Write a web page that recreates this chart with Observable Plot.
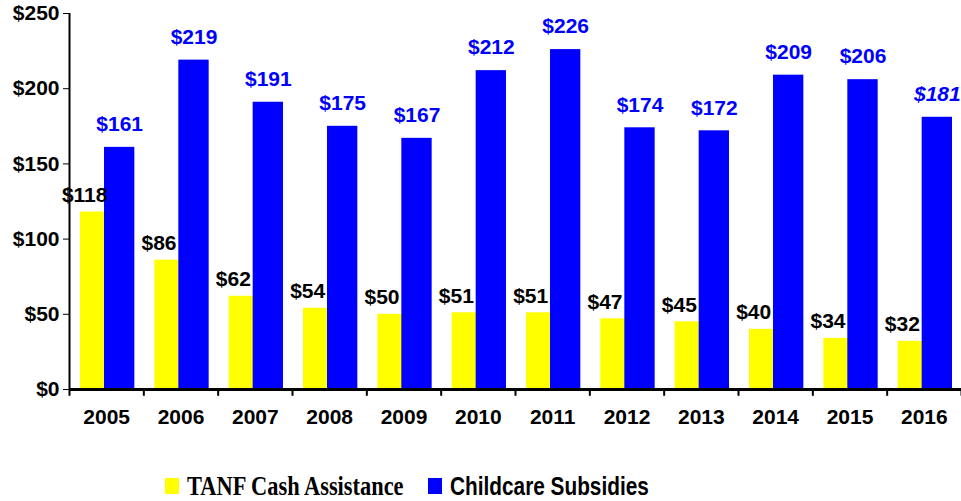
<!DOCTYPE html>
<html>
<head>
<meta charset="utf-8">
<script src="https://cdn.jsdelivr.net/npm/d3@7"></script>
<script src="https://cdn.jsdelivr.net/npm/@observablehq/plot@0.6"></script>
<style>
  body { margin: 0; background: white; }
  #wrap { position: relative; width: 961px; height: 501px; overflow: hidden; background: white; }
  #legend { position: absolute; left: 0; top: 460px; width: 961px; height: 41px; }
  .sw { position: absolute; width: 14px; height: 16px; top: 18px; }
  .lt { position: absolute; top: 11px; white-space: nowrap; transform-origin: left top; transform: scaleX(0.8); font-weight: bold; color: black; line-height: 30px; }
</style>
</head>
<body>
<div id="wrap">
  <div id="chart"></div>
  <div id="legend">
    <div class="sw" style="left:165px;background:#ffff00"></div>
    <div class="lt" style="left:187px;font-family:'Liberation Serif','Times New Roman',serif;font-size:28px;">TANF Cash Assistance</div>
    <div class="sw" style="left:428px;background:#0000ff"></div>
    <div class="lt" style="left:450px;font-family:'Liberation Sans',Arial,sans-serif;font-size:26px;">Childcare Subsidies</div>
  </div>
</div>
<script>
const years = ["2005","2006","2007","2008","2009","2010","2011","2012","2013","2014","2015","2016"];
const tanf = [118, 86, 62, 54, 50, 51, 51, 47, 45, 40, 34, 32];
const childcare = [161, 219, 191, 175, 167, 212, 226, 174, 172, 209, 206, 181];
const yTicks = [0, 50, 100, 150, 200, 250];

const data = years.map((year, i) => ({i, year, tanf: tanf[i], care: childcare[i]}));
const last = years.length - 1;

const chart = Plot.plot({
  width: 961,
  height: 460,
  marginTop: 13,
  marginLeft: 69,
  marginRight: 0,
  marginBottom: 71,
  style: {fontFamily: "'Liberation Sans', Arial, sans-serif", fontWeight: "bold", fontSize: "21px", color: "black", background: "white", overflow: "visible"},
  x: {domain: [0, years.length], axis: null},
  y: {domain: [0, 250], ticks: yTicks, tickFormat: d => "$" + d, label: null, tickSize: 6, tickPadding: 4},
  marks: [
    Plot.rectY(data, {x1: d => d.i, x2: d => d.i + 1, y: "tanf", fill: "#ffff00", insetLeft: 11, insetRight: 33}),
    Plot.rectY(data, {x1: d => d.i, x2: d => d.i + 1, y: "care", fill: "#0000ff", insetLeft: 35, insetRight: 9}),
    Plot.ruleY([0], {stroke: "black", strokeWidth: 3}),
    Plot.ruleX([0], {y1: 0, y2: 250, stroke: "black", strokeWidth: 2}),
    Plot.ruleX(d3.range(years.length + 1), {y1: 0, y2: -4.5, stroke: "black", strokeWidth: 2}),
    Plot.text(data, {x: d => d.i + 0.5, y: 0, text: "year", dy: 28, fontSize: 21, fontWeight: "bold", fill: "black"}),
    Plot.text(data, {x: d => d.i + 0.5, y: "tanf", text: d => "$" + d.tanf, dx: -22, dy: -17, fontSize: 21, fontWeight: "bold", fill: "black"}),
    Plot.text(data.filter(d => d.i !== last), {x: d => d.i + 0.5, y: "care", text: d => "$" + d.care, dx: 13, dy: -23, fontSize: 21, fontWeight: "bold", fill: "#0000ff"}),
    Plot.text(data.filter(d => d.i === last), {x: d => d.i + 0.5, y: "care", text: d => "$" + d.care, dx: 13, dy: -23, fontSize: 21, fontWeight: "bold", fontStyle: "italic", fill: "#0000ff"})
  ]
});
document.getElementById("chart").appendChild(chart);
</script>
</body>
</html>
